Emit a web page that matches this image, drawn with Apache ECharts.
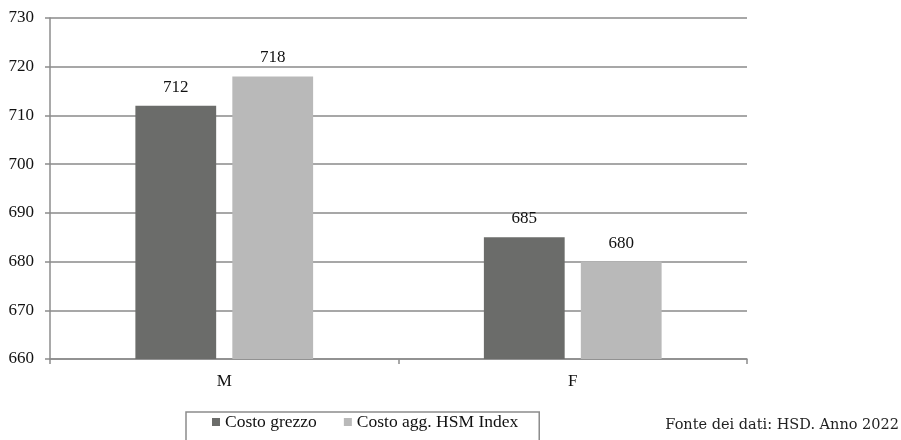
<!DOCTYPE html>
<html>
<head>
<meta charset="utf-8">
<script src="https://cdn.jsdelivr.net/npm/echarts@6/dist/echarts.min.js"></script>
<style>
  html, body { margin: 0; padding: 0; background: #fff; }
  #chart { width: 901px; height: 440px; }
</style>
</head>
<body>
<div id="chart"></div>
<script>
// Costs by sex: raw cost vs. HSM-index adjusted cost
const categories = ['M', 'F'];
const seriesNames = ['Costo grezzo', 'Costo agg. HSM Index'];
const costoGrezzo = [712, 685];
const costoAgg = [718, 680];
const yMin = 660, yMax = 730, yStep = 10;
const sourceNote = 'Fonte dei dati: HSD. Anno 2022';

const serif = '"Liberation Serif", "Times New Roman", serif';
const axisGray = '#8c8c8c';
const textColor = '#111111';

const chart = echarts.init(document.getElementById('chart'), null, { renderer: 'canvas' });

const labelCfg = {
  show: true,
  position: 'top',
  distance: 10,
  color: textColor,
  fontFamily: serif,
  fontSize: 17
};

chart.setOption({
  animation: false,
  backgroundColor: '#ffffff',
  grid: { left: 50, right: 154, top: 18, bottom: 81, containLabel: false },
  xAxis: {
    type: 'category',
    data: categories,
    axisLine: { show: true, lineStyle: { color: axisGray, width: 1.5 } },
    axisTick: { show: true, length: 5, lineStyle: { color: axisGray, width: 1.5 } },
    axisLabel: { color: textColor, fontFamily: serif, fontSize: 17, margin: 14 }
  },
  yAxis: {
    type: 'value',
    min: yMin,
    max: yMax,
    interval: yStep,
    axisLine: { show: true, lineStyle: { color: axisGray, width: 1.5 } },
    axisTick: { show: true, length: 5, lineStyle: { color: axisGray, width: 1.5 } },
    axisLabel: { color: textColor, fontFamily: serif, fontSize: 17, margin: 16 },
    splitLine: { show: true, lineStyle: { color: '#8a8a8a', width: 1.5 } }
  },
  legend: {
    show: true,
    left: 186,
    top: 412,
    orient: 'horizontal',
    data: seriesNames,
    icon: 'rect',
    itemWidth: 8,
    itemHeight: 8,
    itemGap: 27,
    padding: [1, 21, 30, 26],
    borderColor: '#8c8c8c',
    borderWidth: 1.5,
    textStyle: { color: textColor, fontFamily: serif, fontSize: 17.5 }
  },
  series: [
    {
      name: seriesNames[0],
      type: 'bar',
      data: costoGrezzo,
      barGap: '20%',
      barCategoryGap: '49%',
      itemStyle: { color: '#6b6c6a' },
      label: labelCfg
    },
    {
      name: seriesNames[1],
      type: 'bar',
      data: costoAgg,
      itemStyle: { color: '#b9b9b9' },
      label: labelCfg
    }
  ],
  graphic: [
    {
      type: 'text',
      right: 2,
      top: 418,
      style: {
        text: sourceNote,
        fill: '#222222',
        font: '14.5px "DejaVu Serif", serif'
      }
    }
  ]
});
</script>
</body>
</html>
